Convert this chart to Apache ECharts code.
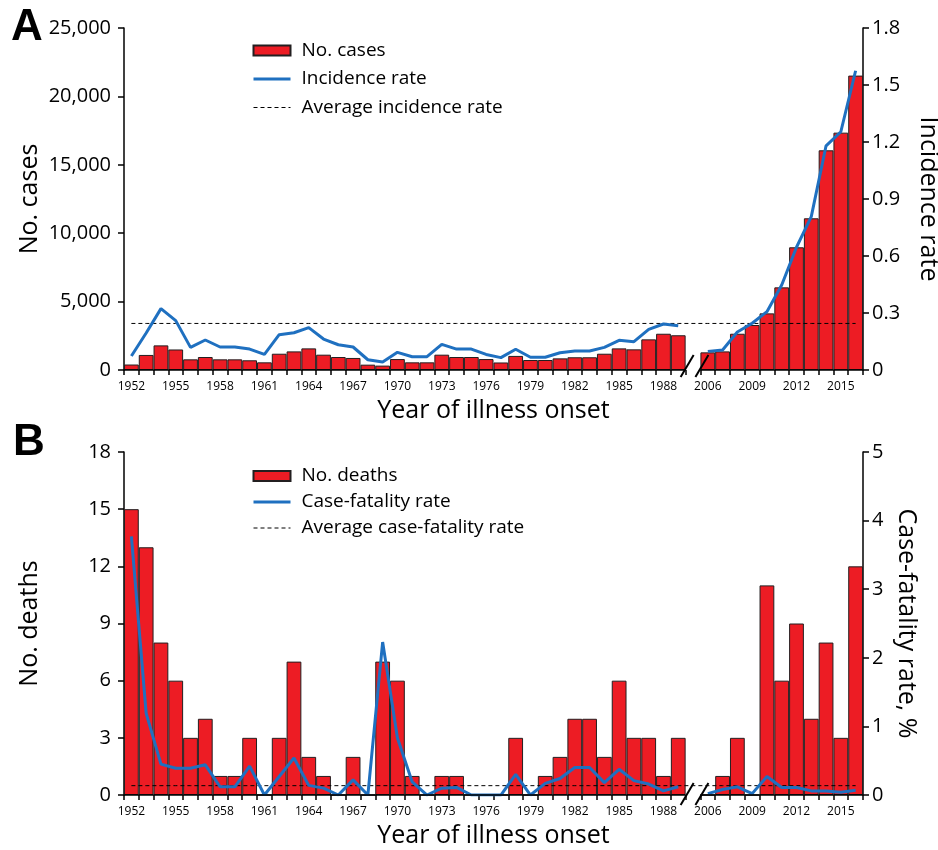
<!DOCTYPE html>
<html><head><meta charset="utf-8">
<script src="https://cdn.jsdelivr.net/npm/echarts@6/dist/echarts.min.js"></script>
<style>html,body{margin:0;padding:0;background:#fff}#c{width:938px;height:850px}</style>
</head><body><div id="c"></div>
<script>
// ---------- data ----------
const categories = ['1952','1953','1954','1955','1956','1957','1958','1959','1960','1961',
  '1962','1963','1964','1965','1966','1967','1968','1969','1970','1971',
  '1972','1973','1974','1975','1976','1977','1978','1979','1980','1981',
  '1982','1983','1984','1985','1986','1987','1988','1989','',
  '2006','2007','2008','2009','2010','2011','2012','2013','2014','2015','2016'];
const cases = [400,1100,1800,1500,780,950,780,780,710,560,
  1190,1360,1580,1120,950,880,390,320,800,560,
  560,1120,950,950,800,550,1030,730,730,850,
  930,930,1190,1580,1510,2240,2650,2540,null,
  1290,1360,2650,3290,4140,6040,8970,11090,16060,17350,21520];
const incidence = [0.074,0.195,0.323,0.26,0.119,0.158,0.121,0.121,0.11,0.082,
  0.186,0.196,0.223,0.163,0.133,0.121,0.054,0.042,0.093,0.070,
  0.070,0.135,0.11,0.11,0.082,0.065,0.109,0.067,0.067,0.091,
  0.10,0.10,0.119,0.156,0.149,0.214,0.242,0.233,null,
  0.098,0.105,0.20,0.246,0.307,0.447,0.646,0.807,1.18,1.254,1.575];
const avgIncidence = 0.245;
const deaths = [15,13,8,6,3,4,1,1,3,0,
  3,7,2,1,0,2,0,7,6,1,
  0,1,1,0,0,0,3,0,1,2,
  4,4,2,6,3,3,1,3,null,
  0,1,3,0,11,6,9,4,8,3,12];
const cfr = [3.77,1.19,0.45,0.39,0.39,0.44,0.12,0.12,0.42,0,
  0.27,0.54,0.14,0.10,0,0.22,0,2.23,0.83,0.19,
  0,0.10,0.11,0,0,0,0.30,0,0.17,0.24,
  0.40,0.40,0.18,0.375,0.21,0.16,0.06,0.12,null,
  0.02,0.08,0.12,0.02,0.27,0.11,0.11,0.06,0.06,0.04,0.07];
const avgCfr = 0.136;
const casesAxis = {min:0, max:25000, interval:5000};
const incidenceAxis = {min:0, max:1.8, interval:0.3};
const deathsAxis = {min:0, max:18, interval:3};
const cfrAxis = {min:0, max:5, interval:1};

// ---------- chart ----------
const FONT = '"Open Sans"';
const RED = '#ED1C24', BLUE = '#1F70C0', EDGE = '#231F20';
const chart = echarts.init(document.getElementById('c'), null, {renderer:'canvas'});

function xAxis(gi){
  return {type:'category', gridIndex:gi, data:categories, boundaryGap:true,
    axisLine:{show:false},
    axisTick:{show:true, interval:0, length:5, lineStyle:{color:'#000', width:1.5}},
    axisLabel:{interval:2, margin:11, fontFamily:FONT, fontSize:12, color:'#000'},
    name:'Year of illness onset', nameLocation:'middle', nameGap:28, nameMoveOverlap:false,
    nameTextStyle:{fontFamily:FONT, fontSize:25, color:'#000'}};
}
function yAxis(gi, pos, ax, name, nameGap, fmt){
  return {type:'value', gridIndex:gi, position:pos, min:ax.min, max:ax.max, interval:ax.interval,
    axisLine:{show:true, lineStyle:{color:'#000', width:1.5}},
    axisTick:{show:true, length:6, lineStyle:{color:'#000', width:1.5}},
    splitLine:{show:false},
    axisLabel:{margin: pos==='left'?13:9, fontFamily:FONT, fontSize:20, color:'#000', formatter:fmt},
    name:name, nameLocation:'middle', nameGap:nameGap, nameRotate: pos==='left'?90:-90,
    nameMoveOverlap:false,
    nameTextStyle:{fontFamily:FONT, fontSize:25, color:'#000'}};
}
const comma = v => v.toLocaleString('en-US');
const dec = v => (Math.round(v*10)/10).toString();

function legend(top, gap, names){
  const noSym = {color:'rgba(0,0,0,0)', borderWidth:0, opacity:0};
  return {orient:'vertical', left:247, top:top, itemWidth:37, itemHeight:10, itemGap:gap,
    data:[{name:names[0], icon:'rect'},
          {name:names[1], itemStyle:noSym, lineStyle:{width:3, color:BLUE}},
          {name:names[2], itemStyle:noSym, lineStyle:{width:1, color:'#000', type:[4,3]}}],
    textStyle:{fontFamily:FONT, fontSize:19, color:'#000', lineHeight:22, padding:[0,0,0,6]}};
}

const option = {
  animation:false,
  backgroundColor:'#fff',
  grid:[{left:124, right:75, top:28, height:342, containLabel:false, outerBoundsMode:'none'},
        {left:124, right:75, top:452, height:343, containLabel:false, outerBoundsMode:'none'}],
  xAxis:[xAxis(0), xAxis(1)],
  yAxis:[
    yAxis(0,'left',casesAxis,'No. cases',82,comma),
    yAxis(0,'right',incidenceAxis,'Incidence rate',53,dec),
    yAxis(1,'left',deathsAxis,'No. deaths',82,null),
    yAxis(1,'right',cfrAxis,'Case-fatality rate, %',31,null)
  ],
  legend:[
    legend(34.5, 6.5, ['No. cases','Incidence rate','Average incidence rate']),
    legend(460, 4, ['No. deaths','Case-fatality rate','Average case-fatality rate'])
  ],
  series:[
    {name:'No. cases', type:'bar', xAxisIndex:0, yAxisIndex:0, data:cases, barCategoryGap:'0%',
      itemStyle:{color:RED, borderColor:EDGE, borderWidth:1}, z:2},
    {name:'Average incidence rate', type:'line', xAxisIndex:0, yAxisIndex:1,
      data:categories.map(()=>avgIncidence), symbol:'none', color:'#000',
      lineStyle:{color:'#000', width:1, type:[4,3]}, z:3},
    {name:'Incidence rate', type:'line', xAxisIndex:0, yAxisIndex:1, data:incidence, symbol:'none',
      connectNulls:false, color:BLUE, lineStyle:{color:BLUE, width:3}, z:4},
    {name:'No. deaths', type:'bar', xAxisIndex:1, yAxisIndex:2, data:deaths, barCategoryGap:'0%',
      itemStyle:{color:RED, borderColor:EDGE, borderWidth:1}, z:2},
    {name:'Average case-fatality rate', type:'line', xAxisIndex:1, yAxisIndex:3,
      data:categories.map(()=>avgCfr), symbol:'none', color:'#000',
      lineStyle:{color:'#000', width:1, type:[4,3]}, z:3},
    {name:'Case-fatality rate', type:'line', xAxisIndex:1, yAxisIndex:3, data:cfr, symbol:'none',
      connectNulls:false, color:BLUE, lineStyle:{color:BLUE, width:3}, z:4}
  ]
};
chart.setOption(option);

// axis line with break marks, panel letters
const els = [];
[0,1].forEach(i=>{
  const y0 = chart.convertToPixel({yAxisIndex:i*2}, 0);
  const c89 = chart.convertToPixel({xAxisIndex:i}, '1989');
  const c06 = chart.convertToPixel({xAxisIndex:i}, '2006');
  const cF = chart.convertToPixel({xAxisIndex:i}, '1952');
  const cL = chart.convertToPixel({xAxisIndex:i}, '2016');
  const bw = (c06 - c89)/2;
  const gL = c89 + bw/2, gR = c06 - bw/2, xs = cF - bw/2, xe = cL + bw/2;
  const ls = {stroke:'#000', lineWidth:1.5};
  els.push({type:'line', shape:{x1:xs, y1:y0, x2:gL, y2:y0}, style:ls, z:10});
  els.push({type:'line', shape:{x1:gR, y1:y0, x2:xe, y2:y0}, style:ls, z:10});
  const dy = i===0 ? -4 : -1;
  [gL, gR].forEach(x=>els.push({type:'line',
    shape:{x1:x+1.5-6.5, y1:y0+dy+11, x2:x+1.5+6.5, y2:y0+dy-11},
    style:{stroke:'#000', lineWidth:2}, z:10}));
});
els.push({type:'text', left:11, top:6, style:{text:'A', font:'bold 44px "Liberation Sans"', fill:'#000'}, z:10});
els.push({type:'text', left:13, top:421, style:{text:'B', font:'bold 44px "Liberation Sans"', fill:'#000'}, z:10});
chart.setOption({graphic:els});
</script></body></html>
